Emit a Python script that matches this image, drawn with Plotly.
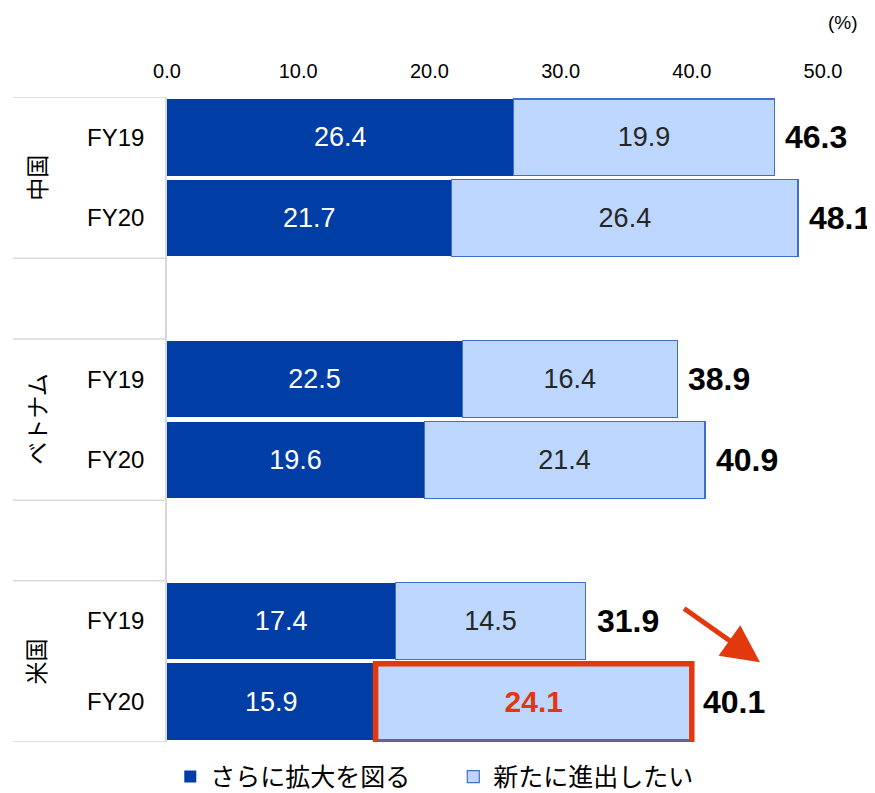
import plotly.graph_objects as go

# ---- data ----
groups = ["中国", "ベトナム", "米国"]
years = ["FY19", "FY20"]
expand = [26.4, 21.7, 22.5, 19.6, 17.4, 15.9]      # さらに拡大を図る
new_entry = [19.9, 26.4, 16.4, 21.4, 14.5, 24.1]   # 新たに進出したい
totals = [46.3, 48.1, 38.9, 40.9, 31.9, 40.1]      # 合計（図の表示値）
series_names = ["さらに拡大を図る", "新たに進出したい"]
x_ticks = [0, 10, 20, 30, 40, 50]
highlight_index = 5

# slot positions: two bars per group, an empty slot between groups
pos = []
for g in range(len(groups)):
    for k in range(len(years)):
        pos.append(g * 3 + k)
ticktext = [years[k] for g in range(len(groups)) for k in range(len(years))]
bar_ends = [a + b for a, b in zip(expand, new_entry)]

DARK = "#003DA5"
LIGHT = "#BDD7FF"
LIGHT_LINE = "#3F6FCC"
RED = "#E2380E"
GRID = "#D9D9D9"
FONT = "Liberation Sans, Arial, sans-serif"
JFONT = "Noto Sans CJK JP, sans-serif"

fig = go.Figure()
fig.add_bar(
    y=pos, x=expand, orientation="h", name=series_names[0],
    marker=dict(color=DARK, line=dict(width=0)), width=0.95,
    text=[f"{v:.1f}" for v in expand], textposition="inside",
    insidetextanchor="middle", constraintext="none",
    textfont=dict(color="white", size=27, family=FONT),
    hoverinfo="skip",
)
light_text = [f"<b>{v:.1f}</b>" if i == highlight_index else f"{v:.1f}" for i, v in enumerate(new_entry)]
light_colors = [RED if i == highlight_index else "#262626" for i in range(len(new_entry))]
light_sizes = [30 if i == highlight_index else 27 for i in range(len(new_entry))]
fig.add_bar(
    y=pos, x=new_entry, orientation="h", name=series_names[1],
    marker=dict(color=LIGHT, line=dict(width=1.2, color=LIGHT_LINE)), width=0.95,
    text=light_text, textposition="inside",
    insidetextanchor="middle", constraintext="none",
    textfont=dict(color=light_colors, size=light_sizes, family=FONT),
    hoverinfo="skip",
)

annotations = []
# totals
for p, e, t in zip(pos, bar_ends, totals):
    annotations.append(dict(
        x=e, y=p, xref="x", yref="y", text=f"<b>{t:.1f}</b>", showarrow=False,
        xanchor="left", xshift=9, font=dict(size=32, color="black", family=FONT),
    ))
# group labels
for g, name in enumerate(groups):
    annotations.append(dict(
        x=-0.201, y=g * 3 + 0.5, xref="paper", yref="y", text=name, showarrow=False,
        xanchor="center", yanchor="middle",
        textangle=-90, font=dict(size=23, color="black", family=JFONT),
    ))
# unit
annotations.append(dict(
    x=1.03, y=1.115, xref="paper", yref="paper", text="(%)", showarrow=False,
    xanchor="center", yanchor="middle",
    font=dict(size=19, color="black", family=FONT),
))
# arrow
annotations.append(dict(
    x=45.2, y=6.51, ax=39.3, ay=5.83, xref="x", yref="y", axref="x", ayref="y",
    text="", showarrow=True, arrowhead=2, arrowsize=1.5, arrowwidth=5, arrowcolor=RED,
))

shapes = []
# left separators
for yv in [-0.5, 1.5, 2.5, 4.5, 5.5, 7.5]:
    shapes.append(dict(type="line", xref="paper", yref="y", x0=-0.235, x1=0, y0=yv, y1=yv,
                       line=dict(color=GRID, width=1.5)))
# highlight box around the highlighted light segment
hp = pos[highlight_index]
shapes.append(dict(type="rect", xref="x", yref="y",
                   x0=expand[highlight_index], x1=bar_ends[highlight_index],
                   y0=hp - 0.47, y1=hp + 0.52,
                   line=dict(color=RED, width=5.5), fillcolor="rgba(0,0,0,0)"))

fig.update_layout(
    width=867, height=785,
    barmode="stack",
    plot_bgcolor="white", paper_bgcolor="white",
    margin=dict(l=159, r=52, t=89, b=51, autoexpand=False),
    xaxis=dict(side="top", range=[0, 50], tickvals=x_ticks, tickformat=".1f",
               showgrid=False, zeroline=False, showline=False, ticks="",
               ticklabelstandoff=14,
               tickfont=dict(size=20, color="black", family=FONT)),
    yaxis=dict(range=[7.5, -0.5], tickvals=pos, ticktext=ticktext,
               showgrid=False, zeroline=False, showline=True, linecolor=GRID, linewidth=1.5,
               ticks="", ticklabelstandoff=16,
               tickfont=dict(size=24, color="black", family=FONT)),
    showlegend=True,
    legend=dict(orientation="h", x=0.005, y=-0.054, xanchor="left", yanchor="middle",
                font=dict(size=25, color="black", family=JFONT),
                itemwidth=30, entrywidth=238, traceorder="normal"),
    annotations=annotations,
    shapes=shapes,
)

fig.write_html("out.html")
